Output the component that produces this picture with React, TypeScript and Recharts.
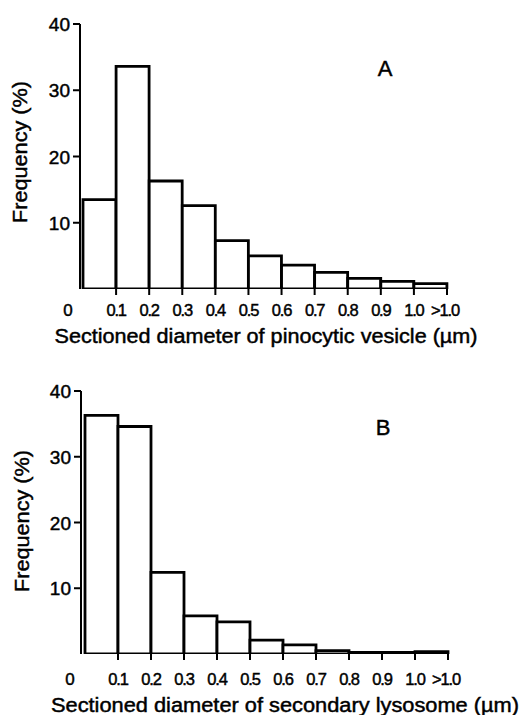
import React from "react";
import { BarChart, Bar, XAxis, YAxis } from "recharts";

const bins = ["0-0.1", "0.1-0.2", "0.2-0.3", "0.3-0.4", "0.4-0.5", "0.5-0.6", "0.6-0.7", "0.7-0.8", "0.8-0.9", "0.9-1.0", ">1.0"];
const edgeLabels = ["0", "0.1", "0.2", "0.3", "0.4", "0.5", "0.6", "0.7", "0.8", "0.9", "1.0", ">1.0"];
const freqA = [13.5, 33.6, 16.3, 12.6, 7.3, 5.0, 3.6, 2.5, 1.6, 1.15, 0.8];
const freqB = [36.3, 34.6, 12.4, 5.8, 4.9, 2.1, 1.4, 0.5, 0.25, 0.25, 0.35];
const yTicks = [10, 20, 30, 40];
const titleA = "Sectioned diameter of pinocytic vesicle (\u00b5m)";
const titleB = "Sectioned diameter of secondary lysosome (\u00b5m)";
const yTitle = "Frequency (%)";

const FONT = "'Liberation Sans', Arial, sans-serif";
const TXT = { fontFamily: FONT, fill: "#000", stroke: "#000", strokeWidth: 0.45 };

const dataA = bins.map((b, i) => ({ bin: b, v: freqA[i] }));
const dataB = bins.map((b, i) => ({ bin: b, v: freqB[i] }));

function makeTick(labelDy: number, band: number) {
  return (props: any) => {
    const { x, y, payload } = props;
    const i = payload?.index ?? props.index ?? 0;
    const half = payload?.offset && payload.offset > 0 ? payload.offset : band / 2;
    const left = x - half;
    const right = x + half;
    const items: React.ReactNode[] = [];
    if (i === 0) {
      items.push(
        <text key="z" x={left - 15} y={y + labelDy} textAnchor="middle" fontSize={17} {...TXT}>
          {edgeLabels[0]}
        </text>
      );
    } else {
      items.push(<line key="l" x1={left} x2={left} y1={y} y2={y + 6} stroke="#000" strokeWidth={2} />);
      items.push(
        <text key="t" x={left} y={y + labelDy} textAnchor="middle" fontSize={16.5} letterSpacing={-1.2} {...TXT}>
          {edgeLabels[i]}
        </text>
      );
    }
    if (i === bins.length - 1) {
      items.push(<line key="l2" x1={right} x2={right} y1={y} y2={y + 6} stroke="#000" strokeWidth={2} />);
      items.push(
        <text key="t2" x={right - 2} y={y + labelDy} textAnchor="middle" fontSize={16.5} letterSpacing={-1.2} {...TXT}>
          {edgeLabels[bins.length]}
        </text>
      );
    }
    return <g>{items}</g>;
  };
}

const yTick = (props: any) => {
  const { x, y, payload } = props;
  return (
    <text x={x} y={y} dy={7} textAnchor="end" fontSize={19} {...TXT}>
      {payload.value}
    </text>
  );
};

type PanelProps = {
  data: { bin: string; v: number }[];
  height: number;
  top: number;
  axisX: number;
  padLeft: number;
  right: number;
  xAxisHeight: number;
  labelDy: number;
  title: string;
  titleX: number;
  titleY: number;
  titleLen: number;
  letter: string;
  letterX: number;
  letterY: number;
  yTitleX: number;
  yTitleY: number;
};

function Panel(p: PanelProps) {
  const W = 523;
  const plotW = W - p.right - p.axisX - p.padLeft;
  const band = plotW / bins.length;
  return (
    <BarChart
      width={W}
      height={p.height}
      data={p.data}
      margin={{ top: p.top, right: p.right, bottom: 0, left: 0 }}
      barCategoryGap={0}
      barGap={0}
    >
      <XAxis
        dataKey="bin"
        axisLine={false}
        tickLine={false}
        tickSize={0}
        tickMargin={0}
        height={p.xAxisHeight}
        padding={{ left: p.padLeft, right: 0 }}
        interval={0}
        tick={makeTick(p.labelDy, band)}
      />
      <YAxis
        width={p.axisX}
        domain={[0, 40]}
        ticks={yTicks}
        allowDataOverflow
        axisLine={{ stroke: "#000", strokeWidth: 2 }}
        tickLine={{ stroke: "#000", strokeWidth: 2 }}
        tickSize={7}
        tickMargin={3}
        tick={yTick}
      />
      <Bar dataKey="v" fill="#fff" stroke="#000" strokeWidth={2.8} isAnimationActive={false} />
      <text x={p.titleX} y={p.titleY} textAnchor="middle" fontSize={20} textLength={p.titleLen} lengthAdjust="spacingAndGlyphs" {...TXT}>
        {p.title}
      </text>
      <text
        x={p.yTitleX}
        y={p.yTitleY}
        textAnchor="middle"
        dominantBaseline="central"
        fontSize={20}
        textLength={142}
        lengthAdjust="spacingAndGlyphs"
        transform={`rotate(-90 ${p.yTitleX} ${p.yTitleY})`}
        {...TXT}
      >
        {yTitle}
      </text>
      <text x={p.letterX} y={p.letterY} textAnchor="middle" fontSize={22} {...TXT}>
        {p.letter}
      </text>
    </BarChart>
  );
}

export default function App() {
  return (
    <div style={{ position: "absolute", left: 0, top: 0, width: 523, height: 715, background: "#fff" }}>
      <Panel
        data={dataA}
        height={357}
        top={24}
        axisX={80}
        padLeft={3}
        right={76}
        xAxisHeight={68}
        labelDy={27}
        title={titleA}
        titleX={266}
        titleY={343}
        titleLen={423}
        letter="A"
        letterX={385}
        letterY={76}
        yTitleX={20}
        yTitleY={152}
      />
      <Panel
        data={dataB}
        height={358}
        top={34}
        axisX={81}
        padLeft={4}
        right={75}
        xAxisHeight={61}
        labelDy={31}
        title={titleB}
        titleX={285}
        titleY={355}
        titleLen={468}
        letter="B"
        letterX={383}
        letterY={78}
        yTitleX={22}
        yTitleY={164}
      />
    </div>
  );
}
